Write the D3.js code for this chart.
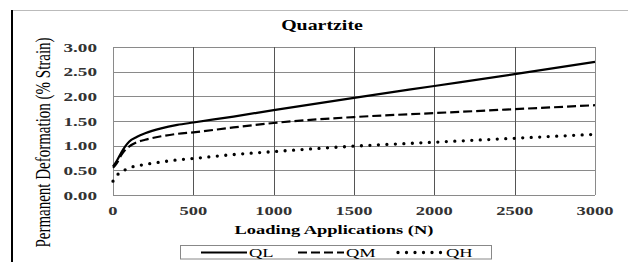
<!DOCTYPE html>
<html>
<head>
<meta charset="utf-8">
<script src="https://cdn.jsdelivr.net/npm/d3@7"></script>
<style>
  body { margin: 0; background: #fff; }
  svg text { font-family: "Liberation Serif", "Times New Roman", serif; }
</style>
</head>
<body>
<svg id="chart" width="628" height="262"></svg>
<script>
// Values
const loads = [0, 25, 50, 75, 100, 150, 200, 300, 400, 500, 750, 1000, 1500, 2000, 2500, 3000];
const qlValues = [0.58, 0.70, 0.85, 0.98, 1.08, 1.18, 1.25, 1.35, 1.42, 1.47, 1.59, 1.72, 1.97, 2.21, 2.45, 2.70];
const qmValues = [0.55, 0.65, 0.80, 0.91, 0.98, 1.07, 1.12, 1.19, 1.24, 1.27, 1.37, 1.46, 1.58, 1.66, 1.74, 1.82];
const qhValues = [0.28, 0.40, 0.47, 0.51, 0.55, 0.59, 0.62, 0.67, 0.71, 0.74, 0.82, 0.88, 0.99, 1.07, 1.15, 1.23];
const seriesNames = ['QL', 'QM', 'QH'];
const xTicks = [0, 500, 1000, 1500, 2000, 2500, 3000];
const yTicks = [0, 0.5, 1, 1.5, 2, 2.5, 3];

const STRETCH = 1.42; // the picture is wider than the font
const svg = d3.select('#chart');
const margin = { left: 113, right: 33, top: 47, bottom: 67 };
const width = 628, height = 262;

const x = d3.scaleLinear().domain([0, 3000]).range([margin.left, width - margin.right]);
const y = d3.scaleLinear().domain([0, 3]).range([height - margin.bottom, margin.top]);

// widen a text element horizontally
function widen(sel) {
    sel.each(function() {
        const w = this.getComputedTextLength();
        this.setAttribute('textLength', w * STRETCH);
        this.setAttribute('lengthAdjust', 'spacingAndGlyphs');
    });
}

// outer frame lines
svg.append('line').attr('x1', 12).attr('x2', 628).attr('y1', 10.5).attr('y2', 10.5)
    .attr('stroke', '#bbb').attr('stroke-width', 1);
svg.append('line').attr('x1', 12).attr('x2', 12).attr('y1', 10).attr('y2', 262)
    .attr('stroke', '#000').attr('stroke-width', 2);

// gridlines
svg.append('g').selectAll('line').data(yTicks).join('line')
    .attr('x1', x(0)).attr('x2', x(3000))
    .attr('y1', d => Math.round(y(d)) + 0.5).attr('y2', d => Math.round(y(d)) + 0.5)
    .attr('stroke', '#8a8a8a');
svg.append('g').selectAll('line').data(xTicks).join('line')
    .attr('x1', d => Math.round(x(d)) + 0.5).attr('x2', d => Math.round(x(d)) + 0.5)
    .attr('y1', y(3)).attr('y2', y(0))
    .attr('stroke', d => (d === 0 || d === 3000) ? '#8a8a8a' : '#555');

// tick labels
svg.append('g').selectAll('text').data(yTicks).join('text')
    .attr('x', 97).attr('y', d => y(d) + 4.5)
    .attr('text-anchor', 'end')
    .attr('font-size', 13.5).attr('font-weight', 'bold').attr('fill', '#333')
    .text(d => d3.format('.2f')(d))
    .call(widen);
svg.append('g').selectAll('text').data(xTicks).join('text')
    .attr('x', d => x(d)).attr('y', 214.5)
    .attr('text-anchor', 'middle')
    .attr('font-size', 13).attr('font-weight', 'bold').attr('fill', '#333')
    .text(d => d)
    .call(widen);

// titles
svg.append('text').attr('x', 322).attr('y', 30)
    .attr('text-anchor', 'middle').attr('font-size', 14).attr('font-weight', 'bold')
    .text('Quartzite').call(widen);
svg.append('text').attr('x', 334).attr('y', 234)
    .attr('text-anchor', 'middle').attr('font-size', 13).attr('font-weight', 'bold')
    .text('Loading Applications (N)').call(widen);
svg.append('text')
    .attr('transform', `translate(43,142.5) scale(${STRETCH},1) rotate(-90)`)
    .attr('text-anchor', 'middle').attr('dominant-baseline', 'central')
    .attr('font-size', 15)
    .text('Permanent Deformation (% Strain)');

// series
const series = [
    { name: seriesNames[0], values: qlValues, dash: null, width: 2.2, cap: 'butt' },
    { name: seriesNames[1], values: qmValues, dash: '9,4', width: 2.2, cap: 'butt' },
    { name: seriesNames[2], values: qhValues, dash: '0,8.5', width: 3.3, cap: 'round' }
];
const line = d3.line()
    .x((d, i) => x(loads[i]))
    .y(d => y(d))
    .curve(d3.curveMonotoneX);

svg.append('g').selectAll('path').data(series).join('path')
    .attr('d', d => line(d.values))
    .attr('fill', 'none')
    .attr('stroke', '#000')
    .attr('stroke-width', d => d.width)
    .attr('stroke-linecap', d => d.cap)
    .attr('stroke-dasharray', d => d.dash);

// legend
const legend = svg.append('g');
legend.append('rect').attr('x', 180.5).attr('y', 245.5).attr('width', 311).attr('height', 13.5)
    .attr('fill', '#fff').attr('stroke', '#888');
const legendX = [201, 298, 398];
const items = legend.selectAll('g.item').data(series).join('g').attr('class', 'item');
items.append('line')
    .attr('x1', (d, i) => legendX[i]).attr('x2', (d, i) => legendX[i] + 46)
    .attr('y1', 252.5).attr('y2', 252.5)
    .attr('stroke', '#000')
    .attr('stroke-width', d => d.width)
    .attr('stroke-linecap', d => d.cap)
    .attr('stroke-dasharray', d => d.dash);
items.append('text')
    .attr('x', (d, i) => legendX[i] + 48).attr('y', 257)
    .attr('font-size', 13)
    .text(d => d.name)
    .call(widen);
</script>
</body>
</html>
